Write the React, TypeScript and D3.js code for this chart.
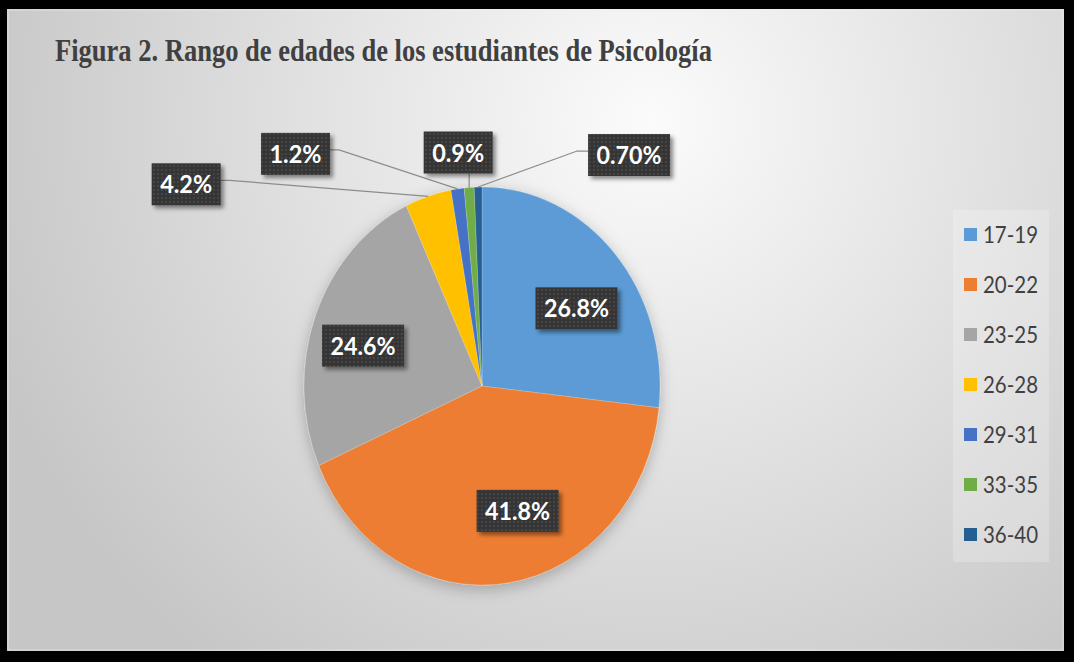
import React from 'react';
import * as d3 from 'd3';

const categories = ['17-19', '20-22', '23-25', '26-28', '29-31', '33-35', '36-40'];
const values = [26.8, 41.8, 24.6, 4.2, 1.2, 0.9, 0.7];
const labels = ['26.8%', '41.8%', '24.6%', '4.2%', '1.2%', '0.9%', '0.70%'];
const colors = ['#5B9BD5', '#ED7D31', '#A5A5A5', '#FFC000', '#4472C4', '#70AD47', '#255E91'];
const title = 'Figura 2. Rango de edades de los estudiantes de Psicología';

// label placement (manually dragged in the original): inside ones sit near the centroid,
// outside ones are offset from the slice's outer edge point
const labelInside = [true, true, true, false, false, false, false];
const labelOffsets: [number, number][] = [
  [7, 10], [18, -5], [-9, 6], [-242, -12], [-162, -35], [-11, -35], [151, -32],
];

const W = 1074;
const H = 662;
const cx = 482;
const cy = 386;
const rx = 178;
const ry = 199;

const App = () => {
  const pie = d3.pie<number>().sort(null).value((d) => d);
  const arcs = pie(values);
  const arc = d3.arc<d3.PieArcDatum<number>>().innerRadius(0).outerRadius(ry);

  const ep = (a: number, f: number): [number, number] => [
    cx + rx * f * Math.sin(a),
    cy - ry * f * Math.cos(a),
  ];

  const legendY = d3.scalePoint<string>().domain(categories).range([235, 535]);

  return (
    <svg width={W} height={H} style={{ position: 'absolute', left: 0, top: 0 }}>
      <defs>
        <radialGradient id="bg" gradientUnits="userSpaceOnUse" cx={650} cy={120} r={700}>
          <stop offset="0" stopColor="#fbfbfb" />
          <stop offset="0.55" stopColor="#dedede" />
          <stop offset="1" stopColor="#c6c6c6" />
        </radialGradient>
        <pattern id="dots" width={4} height={4} patternUnits="userSpaceOnUse">
          <rect width={4} height={4} fill="#363636" />
          <circle cx={2} cy={2} r={1} fill="#4a4a4a" />
        </pattern>
        <filter id="pieShadow" x="-20%" y="-20%" width="140%" height="140%">
          <feDropShadow dx={0} dy={4} stdDeviation={8} floodColor="#000" floodOpacity={0.25} />
        </filter>
        <filter id="boxShadow" x="-20%" y="-20%" width="150%" height="150%">
          <feDropShadow dx={3} dy={3} stdDeviation={2} floodColor="#000" floodOpacity={0.45} />
        </filter>
      </defs>

      <rect x={0} y={0} width={W} height={H} fill="#000" />
      <rect x={7} y={9} width={1057} height={642} fill="url(#bg)" />
      <rect x={8} y={10} width={1055} height={640} fill="none" stroke="#eeeeee" strokeOpacity={0.6} />

      <text
        x={55}
        y={61}
        fontFamily="'Liberation Serif', 'Times New Roman', serif"
        fontWeight="bold"
        fontSize={31}
        fill="#404040"
        textLength={657}
        lengthAdjust="spacingAndGlyphs"
      >
        {title}
      </text>

      <g transform={`translate(${cx},${cy}) scale(${rx / ry},1)`} filter="url(#pieShadow)">
        {arcs.map((a, i) => (
          <path key={categories[i]} d={arc(a) ?? ''} fill={colors[i]} stroke="#ffffff" strokeOpacity={0.25} strokeWidth={0.8} />
        ))}
      </g>

      {arcs.map((a, i) => {
        const mid = (a.startAngle + a.endAngle) / 2;
        const base = labelInside[i] ? ep(mid, 0.66) : ep(mid, 1);
        const lx = base[0] + labelOffsets[i][0];
        const ly = base[1] + labelOffsets[i][1];
        const tw = labels[i].length * 13;
        const bw = tw + 17;
        const bh = 42;
        const x0 = lx - bw / 2;
        const y0 = ly - bh / 2;
        let leader: string | null = null;
        if (!labelInside[i]) {
          const [ex, ey] = base;
          if (ex > x0 && ex < x0 + bw) {
            leader = `M${ex},${y0 + bh}L${ex},${ey}`;
          } else if (ex > x0 + bw) {
            leader = `M${x0 + bw},${ly - 4}L${x0 + bw + 9},${ly - 4}L${ex},${ey}`;
          } else {
            leader = `M${x0},${ly - 4}L${x0 - 11},${ly - 4}L${ex},${ey}`;
          }
        }
        return (
          <g key={labels[i]}>
            {leader && <path d={leader} fill="none" stroke="#8c8c8c" strokeWidth={1.2} />}
            <rect x={x0} y={y0} width={bw} height={bh} fill="url(#dots)" filter="url(#boxShadow)" />
            <text
              x={lx}
              y={ly}
              dy="0.36em"
              textAnchor="middle"
              fontFamily="Lato, 'Open Sans', sans-serif"
              fontWeight="bold"
              fontSize={25}
              fill="#ffffff"
              textLength={tw}
              lengthAdjust="spacingAndGlyphs"
            >
              {labels[i]}
            </text>
          </g>
        );
      })}

      <rect x={953} y={210} width={96} height={352} fill="#ffffff" fillOpacity={0.22} />
      {categories.map((c, i) => (
        <g key={c} transform={`translate(964,${legendY(c)})`}>
          <rect x={0} y={-7} width={13} height={13} fill={colors[i]} />
          <text
            x={19}
            y={0}
            dy="0.36em"
            fontFamily="Lato, 'Open Sans', sans-serif"
            fontSize={23}
            fill="#404040"
            textLength={55}
            lengthAdjust="spacingAndGlyphs"
          >
            {c}
          </text>
        </g>
      ))}
    </svg>
  );
};

export default App;
